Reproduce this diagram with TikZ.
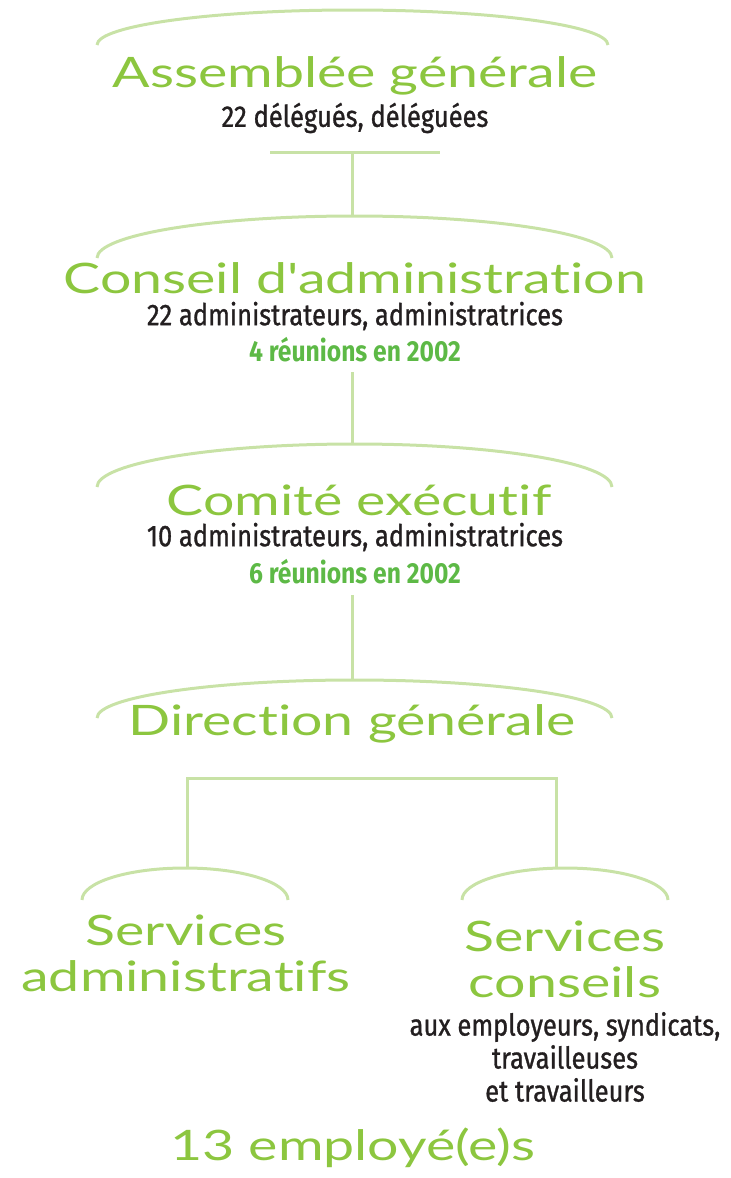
\documentclass[tikz,border=0pt]{standalone}
\usepackage{fontspec}
\setmainfont{Fira Sans}[FakeStretch=0.85, UprightFeatures={FakeBold=1}]
\newfontfamily\headfont{Lato}[FakeStretch=1.32, Ligatures={NoCommon, NoRequired, NoContextual}]

\definecolor{linegreen}{HTML}{C8E2A6}
\definecolor{headgreen}{HTML}{8CC63F}
\definecolor{boldgreen}{HTML}{5DB946}
\definecolor{textblack}{HTML}{231F20}

\tikzset{
	brace/.style={draw=linegreen, line width=1.5pt},
	link/.style={draw=linegreen, line width=1.5pt},
	title/.style={text=headgreen, font=\headfont\fontsize{21}{17}\selectfont, inner sep=0pt},
	info/.style={text=textblack, font=\fontsize{15}{16.5}\selectfont, inner sep=0pt},
	meet/.style={text=boldgreen, font=\bfseries\fontsize{14.5}{15}\selectfont, inner sep=0pt}
}

% arc above a title: left x, end y, width, height (px)
\newcommand\toparc[4]{\draw[brace] (#1,#2) arc[start angle=180, end angle=0, x radius=#3*0.25pt, y radius=#4*0.5pt];}

\begin{document}
\begin{tikzpicture}[x=0.5pt, y=-0.5pt]
	\useasboundingbox (0,0) rectangle (731,1178);

	\node[title] (ag) at (355,76) {Assemblée générale};
	\node[info] (agn) at (355,118) {22 délégués, déléguées};
	\node[title] (ca) at (355,278) {Conseil d'administration};
	\node[info] (can) at (355,316) {22 administrateurs, administratrices};
	\node[meet] (car) at (355,350) {4 réunions en 2002};
	\node[title] (ce) at (359,500) {Comité exécutif};
	\node[info] (cen) at (355,537) {10 administrateurs, administratrices};
	\node[meet] (cer) at (355,572) {6 réunions en 2002};
	\node[title] (dg) at (352,724) {Direction générale};
	\node[title] (sa) at (186,930) {Services};
	\node[title] (sa2) at (186,976) {administratifs};
	\node[title] (sc) at (565,936) {Services};
	\node[title] (sc2) at (565,982) {conseils};
	\node[info, align=center] (scn) at (565,1057) {aux employeurs, syndicats,\\travailleuses\\et travailleurs};
	\node[title] (emp) at (353,1148) {13 employé(e)s};

	\toparc{97}{45}{511}{35}
	\toparc{97}{258}{515}{42}
	\toparc{97}{487}{515}{43}
	\toparc{97}{718}{515}{38}
	\toparc{82}{900}{206}{32}
	\toparc{462}{900}{206}{32}

	\coordinate (bar) at (352,152);
	\coordinate (catop) at (352,216);
	\coordinate (cabot) at (352,372);
	\coordinate (cetop) at (352,444);
	\coordinate (cebot) at (352,595);
	\coordinate (dgtop) at (352,680);
	\coordinate (fork) at (187,778);
	\coordinate (forkr) at (556,778);
	\coordinate (satop) at (187,868);
	\coordinate (sctop) at (556,868);

	\draw[link] (270,152) -- (440,152);
	\draw[link] (bar) -- (catop);
	\draw[link] (cabot) -- (cetop);
	\draw[link] (cebot) -- (dgtop);
	\draw[link] (satop) -- (fork) -- (forkr) -- (sctop);
\end{tikzpicture}
\end{document}
